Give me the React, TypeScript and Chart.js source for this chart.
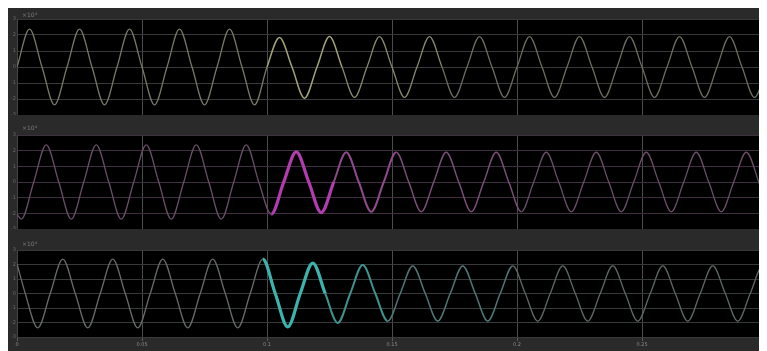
import React, { useEffect, useRef } from 'react';
import { Chart, registerables } from 'chart.js';

Chart.register(...registerables);

// ---- data (time in s, values in scope units) ----
const X_TICKS = [0, 0.05, 0.1, 0.15, 0.2, 0.25, 0.3];
const Y_TICKS = [-3, -2, -1, 0, 1, 2, 3];
const SCALE_LABEL = '×10⁴';

const T1 = [0, 0.005, 0.01, 0.015, 0.02, 0.025, 0.03, 0.035, 0.04, 0.045, 0.05, 0.055, 0.06, 0.065, 0.07, 0.075, 0.08, 0.085, 0.09, 0.095, 0.1, 0.105, 0.11, 0.115, 0.12, 0.125, 0.13, 0.135, 0.14, 0.145, 0.15, 0.155, 0.16, 0.165, 0.17, 0.175, 0.18, 0.185, 0.19, 0.195, 0.2, 0.205, 0.21, 0.215, 0.22, 0.225, 0.23, 0.235, 0.24, 0.245, 0.25, 0.255, 0.26, 0.265, 0.27, 0.275, 0.28, 0.285, 0.29, 0.295, 0.3];
const V1 = [
  0, 2.37, 0, -2.37,
  0, 2.37, 0, -2.37,
  0, 2.37, 0, -2.37,
  0, 2.37, 0, -2.37,
  0, 2.37, 0, -2.37,
  0, 1.85, 0, -1.95,
  0, 1.9, 0, -1.9,
  0, 1.9, 0, -1.9,
  0, 1.9, 0, -1.9,
  0, 1.9, 0, -1.9,
  0, 1.9, 0, -1.9,
  0, 1.9, 0, -1.9,
  0, 1.9, 0, -1.9,
  0, 1.9, 0, -1.9,
  0, 1.9, 0, -1.9,
  0,
];

const T2 = [0, 0.0017, 0.0067, 0.0117, 0.0167, 0.0217, 0.0267, 0.0317, 0.0367, 0.0417, 0.0467, 0.0517, 0.0567, 0.0617, 0.0667, 0.0717, 0.0767, 0.0817, 0.0867, 0.0917, 0.0967, 0.1017, 0.1067, 0.1117, 0.1167, 0.1217, 0.1267, 0.1317, 0.1367, 0.1417, 0.1467, 0.1517, 0.1567, 0.1617, 0.1667, 0.1717, 0.1767, 0.1817, 0.1867, 0.1917, 0.1967, 0.2017, 0.2067, 0.2117, 0.2167, 0.2217, 0.2267, 0.2317, 0.2367, 0.2417, 0.2467, 0.2517, 0.2567, 0.2617, 0.2667, 0.2717, 0.2767, 0.2817, 0.2867, 0.2917, 0.2967, 0.3];
const V2 = [
  -2.05,
  -2.37, 0, 2.37, 0,
  -2.37, 0, 2.37, 0,
  -2.37, 0, 2.37, 0,
  -2.37, 0, 2.37, 0,
  -2.37, 0, 2.37, 0,
  -2.05, 0, 1.92, 0,
  -1.95, 0, 1.9, 0,
  -1.9, 0, 1.9, 0,
  -1.9, 0, 1.9, 0,
  -1.9, 0, 1.9, 0,
  -1.9, 0, 1.9, 0,
  -1.9, 0, 1.9, 0,
  -1.9, 0, 1.9, 0,
  -1.9, 0, 1.9, 0,
  -1.9, 0, 1.9, 0,
  -1.65,
];

const T3 = [0, 0.0033, 0.0083, 0.0133, 0.0183, 0.0233, 0.0283, 0.0333, 0.0383, 0.0433, 0.0483, 0.0533, 0.0583, 0.0633, 0.0683, 0.0733, 0.0783, 0.0833, 0.0883, 0.0933, 0.0983, 0.1033, 0.1083, 0.1133, 0.1183, 0.1233, 0.1283, 0.1333, 0.1383, 0.1433, 0.1483, 0.1533, 0.1583, 0.1633, 0.1683, 0.1733, 0.1783, 0.1833, 0.1883, 0.1933, 0.1983, 0.2033, 0.2083, 0.2133, 0.2183, 0.2233, 0.2283, 0.2333, 0.2383, 0.2433, 0.2483, 0.2533, 0.2583, 0.2633, 0.2683, 0.2733, 0.2783, 0.2833, 0.2883, 0.2933, 0.2983, 0.3];
const V3 = [
  2.05,
  0, -2.37, 0, 2.37,
  0, -2.37, 0, 2.37,
  0, -2.37, 0, 2.37,
  0, -2.37, 0, 2.37,
  0, -2.37, 0, 2.37,
  0, -2.3, 0, 2.1,
  0, -2.03, 0, 1.97,
  0, -1.9, 0, 1.9,
  0, -1.9, 0, 1.9,
  0, -1.9, 0, 1.9,
  0, -1.9, 0, 1.9,
  0, -1.9, 0, 1.9,
  0, -1.9, 0, 1.9,
  0, -1.9, 0, 1.9,
  0, -1.9, 0, 1.9,
  1.65,
];

type Style = { c: string; w: number };
type StyleFn = (t: number) => Style;

const style1: StyleFn = (t) => {
  if (t < 0.1) return { c: '#78786a', w: 1.3 };
  if (t < 0.13) return { c: '#a3a377', w: 1.5 };
  if (t < 0.17) return { c: '#8a8a6e', w: 1.3 };
  return { c: '#6e6e62', w: 1.3 };
};
const style2: StyleFn = (t) => {
  if (t < 0.0995) return { c: '#6a4f68', w: 1.3 };
  if (t < 0.125) return { c: '#b23cb0', w: 3.2 };
  if (t < 0.15) return { c: '#8e4a8c', w: 2 };
  if (t < 0.2) return { c: '#7a4f78', w: 1.5 };
  return { c: '#6a4f68', w: 1.3 };
};
const style3: StyleFn = (t) => {
  if (t < 0.1) return { c: '#686b6a', w: 1.3 };
  if (t < 0.125) return { c: '#3cb4ae', w: 3.2 };
  if (t < 0.15) return { c: '#3e938e', w: 2 };
  if (t < 0.2) return { c: '#4f7875', w: 1.5 };
  return { c: '#5e6866', w: 1.3 };
};

const fmt = (v: number) => String(Number(Number(v).toFixed(2)));

type PanelProps = {
  t: number[];
  v: number[];
  height: number;
  padTop: number;
  showX: boolean;
  hGrid: string;
  styleFn: StyleFn;
  labelDy: number;
};

function Panel({ t, v, height, padTop, showX, hGrid, styleFn, labelDy }: PanelProps) {
  const ref = useRef<HTMLCanvasElement | null>(null);
  useEffect(() => {
    if (!ref.current) return;
    const bg = {
      id: 'bg',
      beforeDraw(chart: any) {
        const { ctx, chartArea: a, width, height: h } = chart;
        ctx.save();
        ctx.fillStyle = '#2a2a2a';
        ctx.fillRect(0, 0, width, h);
        ctx.fillStyle = '#000000';
        ctx.fillRect(a.left, a.top, a.right - a.left, a.bottom - a.top);
        ctx.fillStyle = '#7a7a7a';
        ctx.font = '6px "DejaVu Sans"';
        ctx.textBaseline = 'alphabetic';
        ctx.fillText(SCALE_LABEL, a.left + 5, a.top - labelDy);
        ctx.restore();
      },
    };
    const mid = (c: any) => (c.p0.parsed.x + c.p1.parsed.x) / 2;
    const chart = new Chart(ref.current, {
      type: 'line',
      data: {
        datasets: [
          {
            data: t.map((x, i) => ({ x, y: v[i] })),
            borderColor: styleFn(0).c,
            borderWidth: 1.3,
            pointRadius: 0,
            cubicInterpolationMode: 'monotone',
            segment: {
              borderColor: (c: any) => styleFn(mid(c)).c,
              borderWidth: (c: any) => styleFn(mid(c)).w,
            },
          } as any,
        ],
      },
      options: {
        animation: false,
        responsive: false,
        devicePixelRatio: 1,
        layout: { padding: { top: padTop, left: 0, right: 0, bottom: 0 } },
        plugins: { legend: { display: false }, tooltip: { enabled: false }, title: { display: false } },
        scales: {
          x: {
            type: 'linear',
            min: 0,
            max: 0.3,
            afterBuildTicks: (s: any) => {
              s.ticks = X_TICKS.map((value) => ({ value }));
            },
            ticks: {
              display: showX,
              autoSkip: false,
              maxRotation: 0,
              color: '#8a8a8a',
              font: { size: 5, family: 'DejaVu Sans' },
              padding: 1,
              callback: (val: any) => fmt(val),
            },
            grid: {
              color: '#4c4c4c',
              lineWidth: 1,
              drawTicks: showX,
              tickLength: 4,
              tickColor: '#5a5a5a',
            },
            border: { display: false },
            afterFit: (s: any) => {
              s.height = showX ? 14 : 0;
              s.paddingLeft = 0;
              s.paddingRight = 0;
            },
          },
          y: {
            min: -3,
            max: 3,
            afterBuildTicks: (s: any) => {
              s.ticks = Y_TICKS.map((value) => ({ value }));
            },
            ticks: {
              color: '#6a6a6a',
              font: { size: 5, family: 'DejaVu Sans' },
              padding: 1,
              callback: (val: any) => fmt(val),
            },
            grid: { color: hGrid, lineWidth: 1, drawTicks: false },
            border: { display: true, color: '#444444' },
            afterFit: (s: any) => {
              s.width = 9;
              s.paddingTop = 0;
              s.paddingBottom = 0;
            },
          },
        },
      } as any,
      plugins: [bg],
    });
    return () => chart.destroy();
  }, []);
  return <canvas ref={ref} width={759} height={height} style={{ display: 'block', width: 759, height }} />;
}

export default function App() {
  useEffect(() => {
    document.body.style.overflow = 'hidden';
  }, []);
  return (
    <div style={{ width: 759, height: 343, background: '#2a2a2a', overflow: 'hidden' }}>
      <Panel t={T1} v={V1} height={107} padTop={11} showX={false} hGrid="#383838" styleFn={style1} labelDy={2} />
      <Panel t={T2} v={V2} height={114} padTop={20} showX={false} hGrid="#3e303e" styleFn={style2} labelDy={5} />
      <Panel t={T3} v={V3} height={122} padTop={21} showX={true} hGrid="#363a3a" styleFn={style3} labelDy={4} />
    </div>
  );
}
